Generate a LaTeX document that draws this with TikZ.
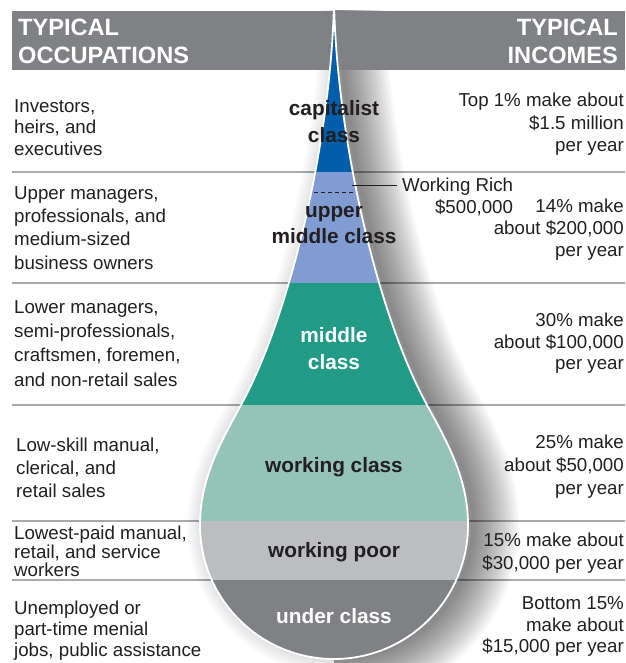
\documentclass[tikz,border=0pt]{standalone}
\usepackage{fontspec}
\setmainfont{Liberation Sans}
\usetikzlibrary{positioning}
\definecolor{txtDark}{HTML}{231F20}
\definecolor{headGray}{HTML}{808185}
\definecolor{sepGray}{HTML}{A7A9AC}
\definecolor{capBlue}{HTML}{005EAB}
\definecolor{upMidBlue}{HTML}{809CD2}
\definecolor{midGreen}{HTML}{219B86}
\definecolor{workGreen}{HTML}{95C3B8}
\definecolor{poorGray}{HTML}{BCBDC0}
\definecolor{underGray}{HTML}{808185}

% outline of the drop, tip at the top
\newcommand{\droppath}{(334,0) .. controls (336,130) and (375,310) .. (427,405)
  .. controls (449,445) and (468,480) .. (468,525)
  arc[start angle=0, end angle=180, radius=134]
  .. controls (200,480) and (219,445) .. (241,405)
  .. controls (293,310) and (332,130) .. (334,0) -- cycle}

\begin{document}
\begin{tikzpicture}[x=1pt, y=-1pt,
    occ/.style={font=\fontsize{18.7}{22.5}\selectfont, text=txtDark, align=left,
                anchor=west, inner sep=0pt},
    inc/.style={font=\fontsize{18.7}{22.5}\selectfont, text=txtDark, align=right,
                anchor=east, inner sep=0pt},
    cls/.style={font=\fontsize{20.8}{26.5}\selectfont\bfseries, text=txtDark,
                align=center, inner sep=0pt},
    head/.style={font=\fontsize{23.6}{28}\selectfont\bfseries, text=white, inner sep=0pt},
    sep/.style={draw=sepGray, line width=2.5pt},
  ]
    \useasboundingbox (0,0) rectangle (625,663);
    \fill[white] (0,0) rectangle (625,663);

    % row separators
    \foreach \y in {172,283,405,521,580}
      \draw[sep] (12,\y) -- (625,\y);

    % shadow round the drop
    \begin{scope}
      \clip (334,11) rectangle (700,700);
      \foreach \w in {4,8,...,92}
        \draw[black, opacity=0.024, line width=\w pt, xshift=5pt] \droppath;
    \end{scope}
    \begin{scope}
      \clip (-20,11) rectangle (334,700);
      \foreach \w in {4,8,...,32}
        \draw[black, opacity=0.015, line width=\w pt, xshift=3pt] \droppath;
    \end{scope}

    % header bar
    \fill[headGray] (12,11) rectangle (625,70.5);
    \node[head, align=left, anchor=west] (hleft) at (18,41) {TYPICAL\\OCCUPATIONS};
    \node[head, align=right, anchor=east] (hright) at (618,41) {TYPICAL\\INCOMES};

    % class bands
    \begin{scope}
      \clip \droppath;
      \fill[capBlue] (150,-5) rectangle (520,172);
      \fill[upMidBlue] (150,172) rectangle (520,283);
      \fill[midGreen] (150,283) rectangle (520,405);
      \fill[workGreen] (150,405) rectangle (520,521);
      \fill[poorGray] (150,521) rectangle (520,580);
      \fill[underGray] (150,580) rectangle (520,680);
    \end{scope}
    \draw[white, line width=1.8pt] \droppath;

    \node[cls] (capl) at (334,121.5) {capitalist\\class};
    \node[cls] (umcl) at (334,225) {upper\\middle class};
    \node[cls, text=white] (midcl) at (334,348.5) {middle\\class};
    \node[cls] (wcl) at (334,467) {working class};
    \node[cls] (wpl) at (334,552) {working poor};
    \node[cls, text=white] (ucl) at (334,616) {under class};

    % working rich marker
    \coordinate (richL) at (314,192);
    \coordinate (richR) at (354,192);
    \draw[txtDark, line width=0.8pt, dash pattern=on 4pt off 3pt] (richL) -- (richR);
    \node[occ, align=right, font=\fontsize{18.7}{22}\selectfont] (rich) at (402,197)
      {Working Rich\\\$500,000};
    \coordinate (richtip) at (352,185);
    \draw[txtDark, line width=0.8pt, shorten >=5pt] (richtip) -- (richtip -| rich.west);

    % occupations
    \node[occ, font=\fontsize{18.7}{21.5}\selectfont] (occ1) at (14,127.5)
      {Investors,\\heirs, and\\executives};
    \node[occ, font=\fontsize{18.7}{23.3}\selectfont] (occ2) at (14,228)
      {Upper managers,\\professionals, and\\medium-sized\\business owners};
    \node[occ, font=\fontsize{18.7}{24.3}\selectfont] (occ3) at (14,343.5)
      {Lower managers,\\semi-professionals,\\craftsmen, foremen,\\and non-retail sales};
    \node[occ, font=\fontsize{18.7}{23}\selectfont] (occ4) at (16,468)
      {Low-skill manual,\\clerical, and\\retail sales};
    \node[occ, font=\fontsize{18.7}{18.5}\selectfont] (occ5) at (14,551.5)
      {Lowest-paid manual,\\retail, and service\\workers};
    \node[occ, font=\fontsize{18.7}{21}\selectfont] (occ6) at (14,631)
      {Unemployed or\\part-time menial\\jobs, public assistance};

    % incomes
    \node[inc] (inc1) at (624,124.5) {Top 1\% make about\\\$1.5 million\\per year};
    \node[inc, font=\fontsize{18.7}{22}\selectfont] (inc2) at (624,230)
      {14\% make\\about \$200,000\\per year};
    \node[inc, font=\fontsize{18.7}{21.5}\selectfont] (inc3) at (624,343.5)
      {30\% make\\about \$100,000\\per year};
    \node[inc, font=\fontsize{18.7}{23}\selectfont] (inc4) at (624,467)
      {25\% make\\about \$50,000\\per year};
    \node[inc, font=\fontsize{18.7}{23}\selectfont] (inc5) at (624,553.5)
      {15\% make about\\\$30,000 per year};
    \node[inc, font=\fontsize{18.7}{21.5}\selectfont] (inc6) at (624,626.5)
      {Bottom 15\%\\make about\\\$15,000 per year};
  \end{tikzpicture}
\end{document}
